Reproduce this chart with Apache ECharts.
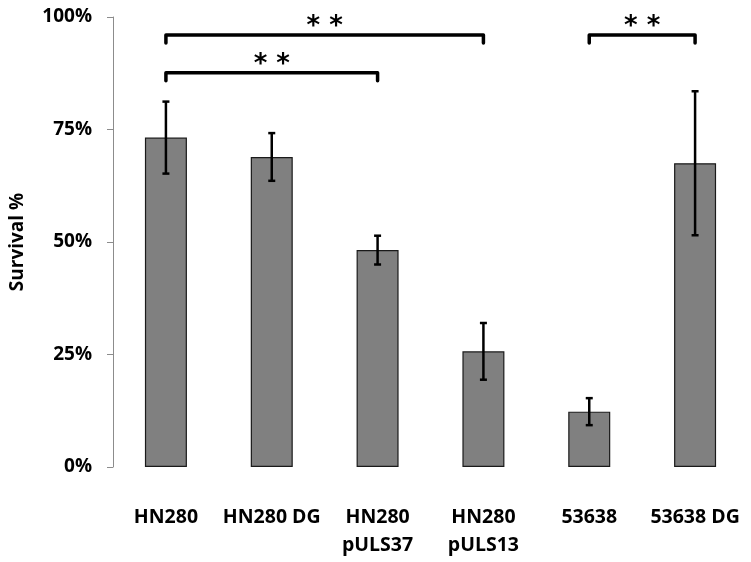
<!DOCTYPE html>
<html>
<head>
<meta charset="utf-8">
<script src="https://cdn.jsdelivr.net/npm/echarts@6/dist/echarts.min.js"></script>
<style>html,body{margin:0;padding:0;background:#fff}#c{width:751px;height:562px}</style>
</head>
<body>
<div id="c"></div>
<script>
// ---- data ----
const categories = ['HN280', 'HN280 DG', 'HN280\npULS37', 'HN280\npULS13', '53638', '53638 DG'];
const survival = [73.2, 68.9, 48.2, 25.7, 12.3, 67.5];
const errors = [8.0, 5.3, 3.2, 6.3, 3.0, 16.0];
const yTicks = [0, 25, 50, 75, 100];
// significance brackets (category index from / to, level in %)
const bracketFrom = [0, 0, 4];
const bracketTo = [3, 1.85, 5.05];
const bracketLevel = [96, 87.6, 96];
const bracketLabel = ['* *', '* *', '* *'];

const chart = echarts.init(document.getElementById('c'), null, {renderer: 'canvas'});
const FONT = '"Open Sans", "Noto Sans", sans-serif';

const errData = categories.map((c, i) => [i, survival[i] - errors[i], survival[i] + errors[i]]);
const bracketData = bracketFrom.map((f, i) => [f, bracketTo[i], bracketLevel[i], i]);

chart.setOption({
  animation: false,
  backgroundColor: '#fff',
  grid: {left: 110, right: 3, top: 17, bottom: 95},
  xAxis: {
    type: 'category',
    data: categories,
    axisLine: {show: false},
    axisTick: {show: false},
    axisLabel: {
      fontFamily: FONT, fontWeight: 'bold', fontSize: 19.5, color: '#000',
      margin: 36, lineHeight: 28, interval: 0
    }
  },
  yAxis: {
    type: 'value',
    min: yTicks[0], max: yTicks[yTicks.length - 1], interval: 25,
    name: 'Survival %',
    nameLocation: 'middle',
    nameGap: 86,
    nameRotate: 90,
    nameTextStyle: {fontFamily: FONT, fontWeight: 'bold', fontSize: 19, color: '#000'},
    axisLine: {show: true, lineStyle: {color: '#8c8c8c', width: 1}},
    axisTick: {show: true, length: 6, lineStyle: {color: '#8c8c8c'}},
    splitLine: {show: false},
    axisLabel: {
      fontFamily: FONT, fontWeight: 'bold', fontSize: 19, color: '#000',
      margin: 21, formatter: '{value}%'
    }
  },
  series: [
    {
      type: 'bar',
      data: survival,
      barWidth: 42,
      itemStyle: {color: '#808080', borderColor: '#1a1a1a', borderWidth: 1.2}
    },
    {
      type: 'custom',
      data: errData,
      z: 5,
      renderItem: function (params, api) {
        const x = api.value(0);
        const lo = api.coord([x, api.value(1)]);
        const hi = api.coord([x, api.value(2)]);
        const w = 3.5;
        const st = {stroke: '#000', lineWidth: 2.5};
        return {
          type: 'group',
          children: [
            {type: 'line', shape: {x1: lo[0], y1: lo[1], x2: hi[0], y2: hi[1]}, style: st},
            {type: 'line', shape: {x1: hi[0] - w, y1: hi[1], x2: hi[0] + w, y2: hi[1]}, style: st},
            {type: 'line', shape: {x1: lo[0] - w, y1: lo[1], x2: lo[0] + w, y2: lo[1]}, style: st}
          ]
        };
      }
    },
    {
      type: 'custom',
      data: bracketData,
      z: 6,
      clip: false,
      renderItem: function (params, api) {
        const x0 = api.value(0), x1 = api.value(1), lvl = api.value(2);
        const idx = api.value(3);
        const a = api.coord([x0, lvl]);
        const b = api.coord([x1, lvl]);
        const drop = 8;
        return {
          type: 'group',
          children: [
            {
              type: 'polyline',
              shape: {points: [[a[0], a[1] + drop], [a[0], a[1]], [b[0], b[1]], [b[0], b[1] + drop]]},
              style: {stroke: '#000', lineWidth: 3.5, fill: null, lineJoin: 'round', lineCap: 'round'}
            },
            {
              type: 'text',
              style: {
                text: bracketLabel[idx],
                x: (a[0] + b[0]) / 2, y: a[1] + 5,
                align: 'center', verticalAlign: 'bottom',
                font: 'bold 26px "DejaVu Sans", sans-serif', fill: '#000'
              }
            }
          ]
        };
      }
    }
  ]
});
</script>
</body>
</html>
